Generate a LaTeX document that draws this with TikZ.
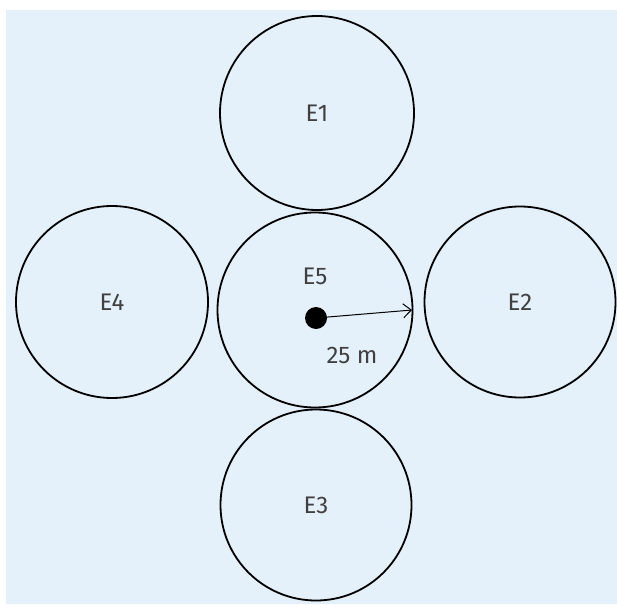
\documentclass[tikz,border=0pt]{standalone}
\usepackage{fontspec}
\setmainfont{Fira Sans}
\usetikzlibrary{arrows.meta}
\definecolor{bgblue}{HTML}{E4F1FA}
\definecolor{txtgrey}{HTML}{404040}
\tikzset{
  zone/.style={circle, draw=black, line width=1.8pt, minimum size=#1, inner sep=0pt, text=txtgrey, font=\fontsize{24}{28}\selectfont},
  lbl/.style={text=txtgrey, font=\fontsize{24}{28}\selectfont, inner sep=0pt},
}
\begin{document}
\begin{tikzpicture}[x=1pt,y=-1pt]
\useasboundingbox (0,0) rectangle (617,604);
\fill[bgblue] (6,10) rectangle (617,604);
\node[zone=194pt] (e1) at (317,113) {E1};
\node[zone=192pt] (e4) at (112,302) {E4};
\node[zone=195pt] (e5) at (315,310) {};
\node[zone=191pt] (e2) at (520,302) {E2};
\node[zone=191pt] (e3) at (316,505) {E3};
\node[lbl] (e5l) at (315,276) {E5};
\node[circle, fill=black, minimum size=22pt, inner sep=0pt] (dot) at (316,318) {};
\coordinate (tip) at (412,310);
\draw[-{Straight Barb[length=8pt,width=14pt]}, line width=1pt] (dot.center) -- (tip);
\node[lbl] (r) at (352,355) {25 m};
\end{tikzpicture}
\end{document}
